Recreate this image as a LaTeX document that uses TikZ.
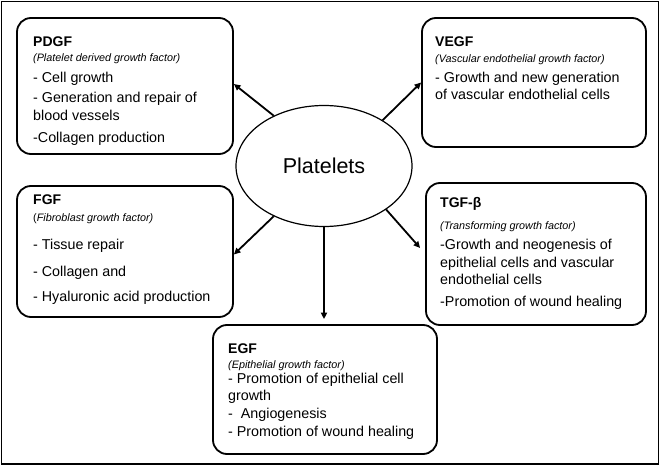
\documentclass[tikz,border=0pt]{standalone}
\usepackage{fontspec}
\setmainfont{Liberation Sans}
\usetikzlibrary{arrows.meta,shapes.geometric}
\begin{document}
\begin{tikzpicture}[x=1pt,y=-1pt,
  box/.style={draw,line width=1.8pt,rounded corners=14pt,inner sep=0pt},
  ln/.style={anchor=base west,inner sep=0pt,font=\fontsize{14.3}{16}\selectfont},
  ttl/.style={anchor=base west,inner sep=0pt,font=\fontsize{14}{16}\selectfont\bfseries},
  sub/.style={anchor=base west,inner sep=0pt,font=\fontsize{10.8}{12}\selectfont\itshape},
  arr/.style={line width=1.8pt,-{Triangle[length=6.5pt,width=6pt]}}]
\useasboundingbox (0,0) rectangle (662,473);
\fill[white] (0,0) rectangle (662,473);
\draw[line width=1.8pt] (1.5,1.5) rectangle (658.5,464);
% boxes
\node[box,minimum width=216pt,minimum height=136pt] (pdgf) at (125,86) {};
\node[box,minimum width=224pt,minimum height=129pt] (vegf) at (534,82.5) {};
\node[box,minimum width=216pt,minimum height=131pt] (fgf) at (125,251.5) {};
\node[box,minimum width=220pt,minimum height=142pt] (tgf) at (536,254) {};
\node[box,minimum width=224pt,minimum height=129pt] (egf) at (325,389.5) {};
% centre
\node[draw,ellipse,line width=1.2pt,minimum width=176pt,minimum height=121pt,inner sep=0pt,
  font=\fontsize{21.5}{24}\selectfont] (plt) at (324,166) {Platelets};
% arrows
\draw[arr] (plt.135) -- ([yshift=2pt]pdgf.east);
\draw[arr] (plt.38) -- (vegf.west);
\draw[arr] (plt.225) -- ([yshift=-3pt]fgf.east);
\draw[arr] (plt.-35) -- ([shift={(-5,-6)}]tgf.west);
\draw[arr,shorten >=5pt] (plt.south) -- (plt.south |- egf.north);
% PDGF text
\node[ttl] (p1) at (33,47) {PDGF};
\node[sub] (p2) at (33,62) {(Platelet derived growth factor)};
\node[ln] (p3) at (33,83) {- Cell growth};
\node[ln] (p4) at (33,103) {- Generation and repair of};
\node[ln] (p5) at (33,121) {blood vessels};
\node[ln] (p6) at (33,143) {-Collagen production};
% VEGF text
\node[ttl] (v1) at (435,47) {VEGF};
\node[sub] (v2) at (435,63) {(Vascular endothelial growth factor)};
\node[ln] (v3) at (435,83) {- Growth and new generation};
\node[ln] (v4) at (435,100) {of vascular endothelial cells};
% FGF text
\node[ttl] (f1) at (33,205) {FGF};
\node[sub] (f2) at (33,222) {\upshape(\itshape Fibroblast growth factor)};
\node[ln] (f3) at (33,250) {- Tissue repair};
\node[ln] (f4) at (33,277) {- Collagen and};
\node[ln] (f5) at (33,302) {- Hyaluronic acid production};
% TGF text
\node[ttl] (t1) at (440,208) {TGF-β};
\node[sub] (t2) at (440,230) {(Transforming growth factor)};
\node[ln] (t3) at (440,250) {-Growth and neogenesis of};
\node[ln] (t4) at (440,268) {epithelial cells and vascular};
\node[ln] (t5) at (440,285) {endothelial cells};
\node[ln] (t6) at (440,307) {-Promotion of wound healing};
% EGF text
\node[ttl] (e1) at (228,353) {EGF};
\node[sub] (e2) at (228,368) {(Epithelial growth factor)};
\node[ln] (e3) at (228,383) {- Promotion of epithelial cell};
\node[ln] (e4) at (228,400) {growth};
\node[ln] (e5) at (228,418) {-\ \ Angiogenesis};
\node[ln] (e6) at (228,436) {- Promotion of wound healing};
\end{tikzpicture}
\end{document}
